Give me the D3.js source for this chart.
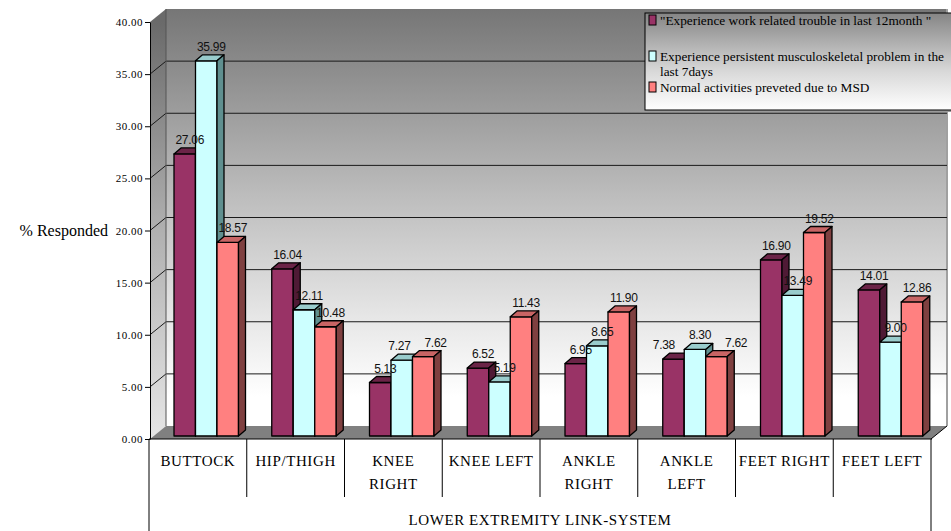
<!DOCTYPE html>
<html>
<head>
<meta charset="utf-8">
<script src="https://d3js.org/d3.v7.min.js"></script>
<style>
  body { margin: 0; background: #fff; }
  svg { display: block; }
</style>
</head>
<body>
<div id="chart"></div>
<script>
// 3D clustered column chart - lower extremity MSD survey
var categories = ['BUTTOCK', 'HIP/THIGH', 'KNEE\nRIGHT', 'KNEE LEFT', 'ANKLE\nRIGHT', 'ANKLE\nLEFT', 'FEET RIGHT', 'FEET LEFT'];
var seriesNames = [
  '"Experience work related trouble in last 12month "',
  'Experience persistent musculoskeletal problem in the\nlast 7days',
  'Normal activities preveted due to MSD'
];
var trouble12m   = [27.06, 16.04, 5.13, 6.52, 6.95, 7.38, 16.90, 14.01];
var persistent7d = [35.99, 12.11, 7.27, 5.19, 8.65, 8.30, 13.49, 9.00];
var prevented    = [18.57, 10.48, 7.62, 11.43, 11.90, 7.62, 19.52, 12.86];
var yTicks = [0, 5, 10, 15, 20, 25, 30, 35, 40];
var axisTitle = '% Responded';
var groupTitle = 'LOWER EXTREMITY LINK-SYSTEM';

(function() {
  'use strict';

  var width = 951, height = 531;
  var series = [trouble12m, persistent7d, prevented];
  var serif = '"Liberation Serif", "Times New Roman", serif';

  // front / top / side colours per series
  var faceColors = [
    { front: '#993366', top: '#6b2447', side: '#4f1a35' },
    { front: '#ccffff', top: '#99cccc', side: '#5f8f8f' },
    { front: '#ff8080', top: '#c86464', side: '#7f4040' }
  ];

  // depth offsets (oblique projection)
  var wallD = { dx: 16, dy: -13 };
  var barOff = { dx: 3, dy: -3 };
  var barD = { dx: 7, dy: -6 };

  var svg = d3.select('#chart').append('svg')
    .attr('width', width)
    .attr('height', height);

  var defs = svg.append('defs');
  function vGrad(id, y1, y2, stops) {
    var g = defs.append('linearGradient').attr('id', id)
      .attr('gradientUnits', 'userSpaceOnUse')
      .attr('x1', 0).attr('x2', 0).attr('y1', y1).attr('y2', y2);
    stops.forEach(function(s) {
      g.append('stop').attr('offset', s[0]).attr('stop-color', s[1]);
    });
  }

  var x = d3.scaleBand().domain(categories).range([149, 931]);
  var xs = d3.scaleBand().domain([0, 1, 2]).range([22, 86.5]);
  var y = d3.scaleLinear().domain([0, 40]).range([439, 22]);

  var x0 = 150, x1 = 931;
  var yTop = y(40), yBase = y(0);

  vGrad('wallGrad', yTop + wallD.dy, yBase + wallD.dy,
    [[0, '#767676'], [0.45, '#bdbdbd'], [0.75, '#e8e8e8'], [0.93, '#ffffff'], [1, '#ffffff']]);
  vGrad('sideGrad', yTop, yBase,
    [[0, '#6a6a6a'], [0.5, '#b0b0b0'], [1, '#e6e6e6']]);
  vGrad('legendGrad', 13, 110,
    [[0, '#858585'], [0.6, '#d8d8d8'], [1, '#ffffff']]);

  // back wall
  svg.append('rect')
    .attr('x', x0 + wallD.dx).attr('y', yTop + wallD.dy)
    .attr('width', x1 - x0).attr('height', yBase - yTop)
    .attr('fill', 'url(#wallGrad)');
  svg.append('line')
    .attr('x1', x1 + wallD.dx).attr('x2', x1 + wallD.dx)
    .attr('y1', yTop + wallD.dy).attr('y2', yBase + wallD.dy)
    .attr('stroke', '#a0a0a0').attr('stroke-width', 2);

  // side wall
  svg.append('polygon')
    .attr('points', [[x0, yTop], [x0 + wallD.dx, yTop + wallD.dy], [x0 + wallD.dx, yBase + wallD.dy], [x0, yBase]].join(' '))
    .attr('fill', 'url(#sideGrad)');

  // grid lines on back wall and side wall
  var grid = svg.append('g').attr('stroke', '#1a1a1a').attr('stroke-width', 1);
  yTicks.filter(function(d) { return d > 0 && d < 40; }).forEach(function(v) {
    grid.append('line')
      .attr('x1', x0 + wallD.dx).attr('x2', x1 + wallD.dx)
      .attr('y1', y(v) + wallD.dy).attr('y2', y(v) + wallD.dy);
    grid.append('line')
      .attr('x1', x0).attr('x2', x0 + wallD.dx)
      .attr('y1', y(v)).attr('y2', y(v) + wallD.dy);
  });
  svg.append('line')
    .attr('x1', x0 + wallD.dx).attr('x2', x0 + wallD.dx)
    .attr('y1', yTop + wallD.dy).attr('y2', yBase + wallD.dy)
    .attr('stroke', '#555').attr('stroke-width', 1);

  // floor
  svg.append('polygon')
    .attr('points', [[x0, yBase], [x1, yBase], [x1 + wallD.dx, yBase + wallD.dy], [x0 + wallD.dx, yBase + wallD.dy]].join(' '))
    .attr('fill', '#808080');

  // bars
  var bars = svg.append('g')
    .attr('stroke', '#000').attr('stroke-width', 1.3).attr('stroke-linejoin', 'round');
  var labelData = [];

  categories.forEach(function(cat, ci) {
    series.forEach(function(vals, si) {
      var v = vals[ci];
      var bx = x(cat) + xs(si) + barOff.dx;
      var bw = xs.bandwidth();
      var top = y(v) + barOff.dy;
      var bot = y(0) + barOff.dy;
      var c = faceColors[si];
      bars.append('rect')
        .attr('x', bx).attr('y', top).attr('width', bw).attr('height', bot - top)
        .attr('fill', c.front);
      bars.append('polygon')
        .attr('points', [[bx, top], [bx + barD.dx, top + barD.dy], [bx + bw + barD.dx, top + barD.dy], [bx + bw, top]].join(' '))
        .attr('fill', c.top);
      bars.append('polygon')
        .attr('points', [[bx + bw, top], [bx + bw + barD.dx, top + barD.dy], [bx + bw + barD.dx, bot + barD.dy], [bx + bw, bot]].join(' '))
        .attr('fill', c.side);
      labelData.push({ cat: ci, s: si, v: v, cx: bx + bw / 2 + 5, by: top - 10 });
    });
  });

  // value labels
  var labels = svg.append('g')
    .attr('font-family', '"Liberation Sans", Arial, sans-serif')
    .attr('font-size', '12px')
    .attr('letter-spacing', '-0.3px')
    .attr('fill', '#111')
    .attr('text-anchor', 'middle');

  var lbl = labels.selectAll('text')
    .data(labelData)
    .enter().append('text')
    .text(function(d) { return d.v.toFixed(2); })
    .attr('y', function(d) { return d.by; });
  lbl.each(function(d) { d.w = this.getComputedTextLength() + 14; });

  // spread labels that collide inside a category
  d3.range(30).forEach(function() {
    categories.forEach(function(cat, ci) {
      var grp = labelData.filter(function(d) { return d.cat === ci; });
      for (var i = 0; i < grp.length; i++) {
        for (var j = i + 1; j < grp.length; j++) {
          var a = grp[i], b = grp[j];
          if (Math.abs(a.by - b.by) >= 11) continue;
          var ov = (a.w + b.w) / 2 - (b.cx - a.cx);
          if (ov > 0) { a.cx -= ov / 2; b.cx += ov / 2; }
        }
      }
    });
  });
  lbl.attr('x', function(d) { return d.cx; });

  // y axis
  var axis = svg.append('g')
    .attr('transform', 'translate(' + x0 + ',0)')
    .call(d3.axisLeft(y).tickValues(yTicks).tickSize(5).tickSizeOuter(0)
      .tickFormat(function(d) { return d.toFixed(2); }));
  axis.select('.domain').attr('stroke', '#000');
  axis.selectAll('.tick line').attr('stroke', '#000');
  axis.selectAll('.tick text')
    .attr('x', -7)
    .attr('font-family', serif)
    .attr('font-size', '11px')
    .attr('letter-spacing', '0.5px')
    .attr('fill', '#000');

  svg.append('text')
    .attr('x', 108).attr('y', 236)
    .attr('text-anchor', 'end')
    .attr('font-family', serif)
    .attr('font-size', '16px')
    .text(axisTitle);

  // category table under the plot
  var table = svg.append('g').attr('stroke', '#000').attr('stroke-width', 1);
  table.append('line').attr('x1', 149).attr('x2', x1 + 1).attr('y1', yBase).attr('y2', yBase);
  table.append('line').attr('x1', 149).attr('x2', 149).attr('y1', yBase).attr('y2', height);
  table.append('line').attr('x1', x1).attr('x2', x1).attr('y1', yBase).attr('y2', height);
  categories.slice(1).forEach(function(cat) {
    table.append('line').attr('x1', x(cat)).attr('x2', x(cat)).attr('y1', yBase).attr('y2', 497);
  });
  // floor right edge
  svg.append('line')
    .attr('x1', x1).attr('y1', yBase).attr('x2', x1 + wallD.dx).attr('y2', yBase + wallD.dy)
    .attr('stroke', '#000').attr('stroke-width', 1);

  var catText = svg.append('g')
    .attr('font-family', serif)
    .attr('font-size', '15px')
    .attr('letter-spacing', '0.6px')
    .attr('text-anchor', 'middle');
  categories.forEach(function(cat) {
    var cx = x(cat) + x.bandwidth() / 2;
    var t = catText.append('text').attr('x', cx).attr('y', 466);
    cat.split('\n').forEach(function(line, i) {
      t.append('tspan').attr('x', cx).attr('dy', i ? 23 : 0).text(line);
    });
  });
  catText.append('text').attr('x', (149 + x1) / 2).attr('y', 525).text(groupTitle);

  // legend
  var leg = svg.append('g');
  leg.append('rect').attr('x', 647).attr('y', 15).attr('width', 320).attr('height', 97).attr('fill', '#9a9a9a');
  leg.append('rect').attr('x', 645).attr('y', 13).attr('width', 320).attr('height', 97)
    .attr('fill', 'url(#legendGrad)').attr('stroke', '#000').attr('stroke-width', 1);
  var legTop = [15, 51, 82];
  seriesNames.forEach(function(name, i) {
    leg.append('rect')
      .attr('x', 649).attr('y', legTop[i]).attr('width', 7).attr('height', 10)
      .attr('fill', faceColors[i].front).attr('stroke', '#000').attr('stroke-width', 1);
    var t = leg.append('text')
      .attr('x', 660).attr('y', legTop[i] + 10)
      .attr('font-family', serif)
      .attr('font-size', '13.3px');
    name.split('\n').forEach(function(line, k) {
      t.append('tspan').attr('x', 660).attr('dy', k ? 15 : 0).text(line);
    });
  });
})();
</script>
</body>
</html>
